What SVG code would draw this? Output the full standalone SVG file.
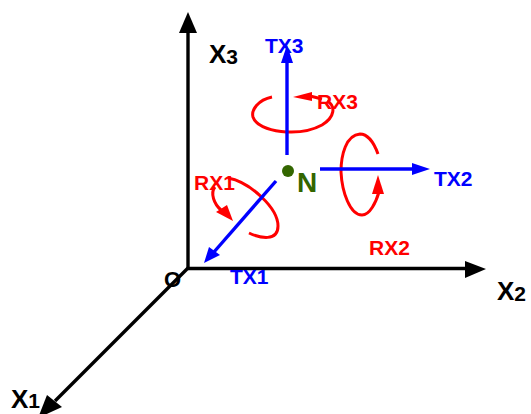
<svg xmlns="http://www.w3.org/2000/svg" width="531" height="414" viewBox="0 0 531 414">
<style>
text{font-family:"Liberation Sans",Arial,sans-serif;font-weight:bold}
.k{fill:#000}.b{fill:#0000ff;font-size:21px}.r{fill:#ff0000;font-size:21px}
.big{font-size:26px}.sub{font-size:21px}
.ax{stroke:#000;stroke-width:3.4;fill:none}
.tx{stroke:#0000ff;stroke-width:3.4;fill:none}
.rx{stroke:#ff0000;stroke-width:3;fill:none}
</style>
<rect width="531" height="414" fill="#fff"/>
<g id="connectors">
<path class="ax" d="M188 268V30"/><path d="M188 12L197 33H179Z"/>
<path class="ax" d="M188 268.500H468"/><path d="M486 269L465 261V278Z"/>
<path class="ax" d="M188 268L55 401"/><path d="M38 418L47 395L62 407Z"/>
<path class="rx" d="M272 97C258 100 251 110 253 117C258 133 300 137 322 125C335 117 336 106 327 101"/>
<path class="tx" d="M287 155V60"/><path d="M287 45L293 63H281Z" fill="#0000ff"/>
<path d="M293 97L312 92V101Z" fill="#ff0000"/><path class="rx" d="M310 96L322 99"/>
<path class="rx" d="M378 154C373 140 366 134 360 134C346 135 341 155 341 172C342 192 350 215 362 215C370 215 376 202 379 192"/>
<path class="tx" d="M320 169H415"/><path d="M430 169L412 163V175Z" fill="#0000ff"/>
<path d="M378 175L384 194H372Z" fill="#ff0000"/>
<path class="rx" d="M228 178C250 182 278 208 278 226C278 242 260 238 249 233"/>
<path class="rx" d="M215 187C210 193 214 204 221 210"/><path d="M233 221L216 212L227 205Z" fill="#ff0000"/>
<path class="tx" d="M276 181L214 252"/><path d="M204 263L209 247L220 255Z" fill="#0000ff"/>
</g>
<g id="origin"><text x="164" y="287" class="k" style="font-size:22px">O</text></g>
<g id="axis-x3"><text x="209" y="63" class="k big">X<tspan class="sub" dy="1">3</tspan></text></g>
<g id="axis-x2"><text x="497" y="300" class="k big">X<tspan class="sub" dy="1">2</tspan></text></g>
<g id="axis-x1"><text x="11" y="408" class="k big">X<tspan class="sub" dy="0">1</tspan></text></g>
<g id="node-n"><circle cx="288" cy="171" r="6" fill="#336600"/><text x="297" y="192" font-size="28" fill="#336600">N</text></g>
<g id="labels">
<text x="265" y="53" class="b">TX3</text>
<text x="434" y="186" class="b">TX2</text>
<text x="230" y="284" class="b">TX1</text>
<text x="317" y="109" class="r">RX3</text>
<text x="194" y="190" class="r">RX1</text>
<text x="369" y="255" class="r">RX2</text>
</g>
</svg>
